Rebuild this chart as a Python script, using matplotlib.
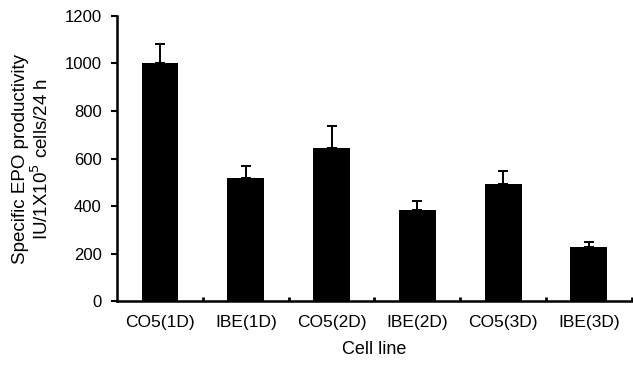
import numpy as np
import matplotlib
matplotlib.use("Agg")
import matplotlib.pyplot as plt

categories = ["CO5(1D)", "IBE(1D)", "CO5(2D)", "IBE(2D)", "CO5(3D)", "IBE(3D)"]
values = [1000, 519, 643, 382, 495, 230]
errors = [82, 51, 93, 40, 51, 20]
yticks = [0, 200, 400, 600, 800, 1000, 1200]

plt.rcParams['font.family'] = ['Liberation Sans', 'DejaVu Sans']

fig = plt.figure(figsize=(6.33, 3.70), dpi=100)
ax = fig.add_axes([0.185, 0.186, 0.813, 0.771])

x = np.arange(len(categories))
ax.bar(x, values, width=0.43, color='black', zorder=2)
ax.errorbar(x, values, yerr=[np.zeros(len(errors)), errors], fmt='none',
            ecolor='black', elinewidth=1.4, capsize=3.5, capthick=1.4, zorder=1)

ax.set_xlim(-0.5, 5.5)
ax.set_ylim(0, 1200)
ax.set_yticks(yticks)
ax.set_xticks(x)
ax.set_xticklabels(categories)
ax.set_xticks(np.arange(0.5, 6, 1), minor=True)

ax.tick_params(axis='x', which='major', length=0, pad=10, labelsize=12.5)
ax.tick_params(axis='x', which='minor', direction='in', length=3, width=2)
ax.tick_params(axis='y', direction='out', length=4, width=1.5, pad=7, labelsize=12)

for side in ['top', 'right']:
    ax.spines[side].set_visible(False)
ax.spines['left'].set_linewidth(1.8)
ax.spines['bottom'].set_linewidth(1.8)

ax.set_ylabel("Specific EPO productivity\nIU/1X10$^5$ cells/24 h", fontsize=13.5, labelpad=9,
              linespacing=1.1)
ax.set_xlabel("Cell line", fontsize=13, labelpad=8)

fig.savefig("out.png", dpi=100)
